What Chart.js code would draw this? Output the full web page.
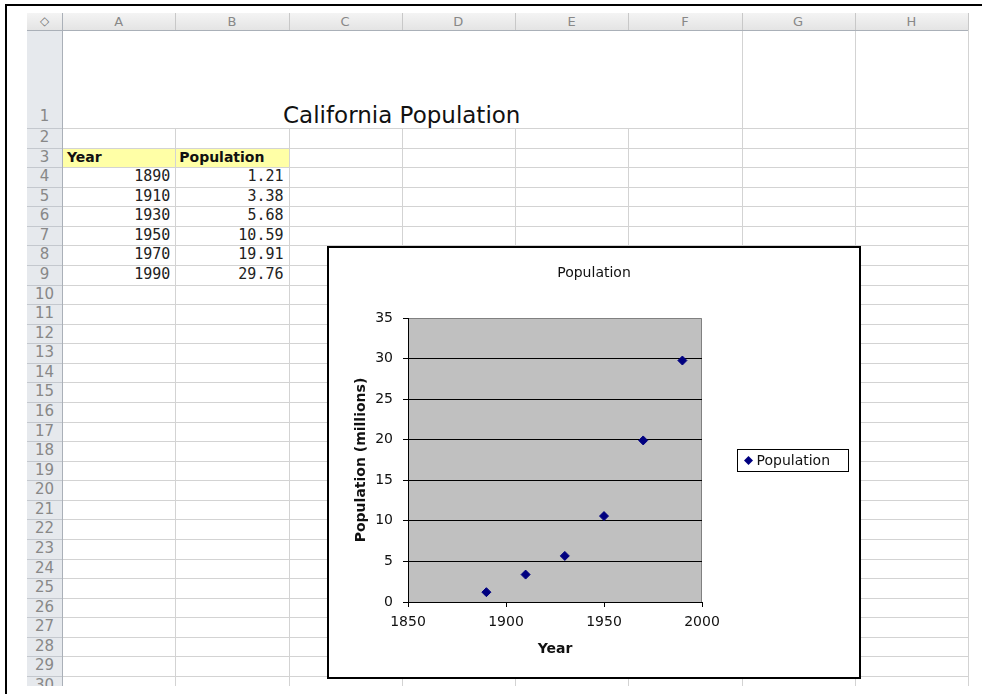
<!DOCTYPE html>
<html>
<head>
<meta charset="utf-8">
<title>California Population</title>
<script src="https://cdn.jsdelivr.net/npm/chart.js@4.4.1/dist/chart.umd.min.js"></script>
<style>
  html, body { margin:0; padding:0; background:#fff; }
  body { width:982px; height:694px; overflow:hidden; position:relative; font-family:"DejaVu Sans", Verdana, sans-serif; }
  .abs { position:absolute; box-sizing:border-box; white-space:nowrap; }
  #grid { position:absolute; left:0; top:0; width:982px; height:686px; overflow:hidden; }
  #chartBox { position:absolute; left:327px; top:246px; width:534px; height:433px; border:2px solid #000; background:#fff; box-sizing:border-box; }
  #chartBox canvas { display:block; }
</style>
</head>
<body>
<div id="grid"></div>
<div class="abs" style="left:5px;top:4px;width:977px;height:2px;background:#000"></div>
<div class="abs" style="left:5px;top:4px;width:2px;height:690px;background:#000"></div>
<div id="chartBox"><canvas id="popChart" width="530" height="429"></canvas></div>

<script>
// ----- data -----
const colLetters = ["A","B","C","D","E","F","G","H"];
const rowCount = 30;
const sheetTitle = "California Population";
const headers = ["Year","Population"];
const years = [1890, 1910, 1930, 1950, 1970, 1990];
const population = [1.21, 3.38, 5.68, 10.59, 19.91, 29.76];
const xRange = [1850, 2000];
const yRange = [0, 35];
const xStep = 50;
const yStep = 5;
const chartTitle = "Population";

// ----- sheet geometry -----
const G = { left:27, hdrTop:13, hdrBot:30, rowHdrR:62, colW:113.25, row1Bot:128, rowH:19.57, bottom:686, right:968 };
function colX(i){ return G.rowHdrR + i*G.colW; }
function rowTop(n){ return n===1 ? G.hdrBot : G.row1Bot + (n-2)*G.rowH; }
function rowBot(n){ return n===1 ? G.row1Bot : rowTop(n) + G.rowH; }

const grid = document.getElementById("grid");
function box(x, y, w, h, style, text){
  const d = document.createElement("div");
  d.className = "abs";
  d.style.cssText = `left:${x}px;top:${y}px;width:${w}px;height:${h}px;${style||""}`;
  if(text != null) d.textContent = text;
  grid.appendChild(d);
  return d;
}

// header backgrounds
box(G.left, G.hdrTop, G.right - G.left, G.hdrBot - G.hdrTop, "background:linear-gradient(#f4f4f4,#e4e4e4)");
box(G.left, G.hdrBot, G.rowHdrR - G.left, G.bottom - G.hdrBot, "background:#e6e9ed");
// yellow header cells A3:B3
box(colX(0), rowTop(3), 2*G.colW, G.rowH, "background:#ffffa6");

// horizontal lines
for(let n=2; n<=rowCount; n++){
  const y = Math.round(rowTop(n));
  box(G.left, y, G.rowHdrR - G.left, 1, "background:#c4c8ce");
  box(G.rowHdrR, y, G.right - G.rowHdrR, 1, "background:#d3d3d3");
}
// vertical lines
for(let i=1; i<=colLetters.length; i++){
  const x = Math.round(colX(i));
  box(x, G.hdrTop, 1, G.hdrBot - G.hdrTop, "background:#c8c8c8");
  const top = i <= 5 ? G.row1Bot : G.hdrBot;
  box(x, top, 1, G.bottom - top, "background:#d3d3d3");
}
box(G.rowHdrR, G.hdrTop, 1, G.bottom - G.hdrTop, "background:#aab0b8");
box(G.left, G.hdrBot, G.right - G.left, 1, "background:#aab0b8");

// corner + column letters
box(G.left, G.hdrTop, G.rowHdrR - G.left, G.hdrBot - G.hdrTop, "text-align:center;font-size:12px;line-height:17px;color:#777;font-weight:bold", "\u25C7");
colLetters.forEach((c, i) => {
  box(colX(i), G.hdrTop, G.colW, G.hdrBot - G.hdrTop, "text-align:center;font-size:13px;line-height:17px;color:#888", c);
});
// row numbers
for(let n=1; n<=rowCount; n++){
  const t = n===1 ? rowBot(1) - G.rowH - 1 : rowTop(n);
  box(G.left, t, G.rowHdrR - G.left, G.rowH, "text-align:center;font-size:15px;line-height:19.57px;color:#888", String(n));
}

// title A1:F1
box(colX(0), 102, 6*G.colW, 26, "text-align:center;font-size:23px;line-height:26px;color:#111", sheetTitle);
// headers
box(colX(0)+5, rowTop(3), G.colW, G.rowH, "font-size:14px;font-weight:bold;line-height:19.57px;color:#111", headers[0]);
box(colX(1)+4, rowTop(3), G.colW, G.rowH, "font-size:14px;font-weight:bold;line-height:19.57px;color:#111", headers[1]);
// data cells
years.forEach((yr, i) => {
  const r = 4 + i;
  const cs = "text-align:right;padding-right:5px;font-family:'DejaVu Sans Mono',monospace;font-size:15px;line-height:19.57px;color:#222";
  box(colX(0), rowTop(r), G.colW, G.rowH, cs, String(yr));
  box(colX(1), rowTop(r), G.colW, G.rowH, cs, population[i].toFixed(2));
});

// ----- chart -----
Chart.defaults.font.family = '"DejaVu Sans", Verdana, sans-serif';
Chart.defaults.font.size = 14;
Chart.defaults.color = "#111";

const plotBg = {
  id: "plotBg",
  beforeDraw(chart){
    const {ctx, chartArea:a} = chart;
    ctx.save();
    ctx.fillStyle = "#c0c0c0";
    ctx.fillRect(a.left, a.top, a.right - a.left, a.bottom - a.top);
    ctx.strokeStyle = "#808080";
    ctx.lineWidth = 1;
    ctx.beginPath();
    ctx.moveTo(a.left, a.top + 0.5);
    ctx.lineTo(a.right - 0.5, a.top + 0.5);
    ctx.lineTo(a.right - 0.5, a.bottom);
    ctx.stroke();
    // chart title, centred on the whole chart box
    ctx.fillStyle = "#111";
    ctx.font = '14px "DejaVu Sans", Verdana, sans-serif';
    ctx.textAlign = "center";
    ctx.textBaseline = "middle";
    ctx.fillText(chartTitle, chart.width / 2, 25);
    ctx.restore();
  }
};

const boxLegend = {
  id: "boxLegend",
  afterDraw(chart){
    const {ctx, chartArea:a} = chart;
    const ds = chart.data.datasets[0];
    const x = Math.round(a.right + 35) + 0.5, y = 201.5, w = 111, h = 22;
    ctx.save();
    ctx.strokeStyle = "#000";
    ctx.lineWidth = 1;
    ctx.strokeRect(x, y, w, h);
    const cx = x + 11, cy = y + h/2, r = 4.5;
    ctx.fillStyle = ds.backgroundColor;
    ctx.beginPath();
    ctx.moveTo(cx, cy - r); ctx.lineTo(cx + r, cy); ctx.lineTo(cx, cy + r); ctx.lineTo(cx - r, cy);
    ctx.closePath(); ctx.fill();
    ctx.fillStyle = "#111";
    ctx.font = '14px "DejaVu Sans", Verdana, sans-serif';
    ctx.textBaseline = "middle";
    ctx.fillText(ds.label, cx + 8, cy + 1);
    ctx.restore();
  }
};

new Chart(document.getElementById("popChart"), {
  type: "scatter",
  data: {
    datasets: [{
      label: "Population",
      data: years.map((yr, i) => ({ x: yr, y: population[i] })),
      pointStyle: "rectRot",
      pointRadius: 4.5,
      backgroundColor: "#000080",
      borderColor: "#000080",
      borderWidth: 1
    }]
  },
  options: {
    responsive: false,
    animation: false,
    devicePixelRatio: 1,
    layout: { padding: { left: 0, right: 157, top: 70, bottom: 0 } },
    plugins: {
      legend: { display: false },
      tooltip: { enabled: false },
      title: { display: false }
    },
    scales: {
      x: {
        type: "linear", min: xRange[0], max: xRange[1],
        ticks: { stepSize: xStep, padding: 7, color: "#111", callback: v => String(v) },
        grid: { drawOnChartArea: false, drawTicks: true, tickLength: 5, tickColor: "#000" },
        border: { display: true, color: "#000", width: 1 },
        title: { display: true, text: "Year", color: "#111", font: { weight: "bold" }, padding: { top: 0, bottom: 19.6 } },
        afterFit(s){ s.height = 75; }
      },
      y: {
        type: "linear", min: yRange[0], max: yRange[1],
        ticks: { stepSize: yStep, padding: 10, color: "#111", callback: v => String(v) },
        grid: {
          color: c => (c.tick && (c.tick.value === yRange[0] || c.tick.value === yRange[1])) ? "rgba(0,0,0,0)" : "#000",
          tickLength: 5, tickColor: "#000"
        },
        border: { display: true, color: "#000", width: 1 },
        title: { display: true, text: "Population (millions)", color: "#111", font: { weight: "bold" }, padding: { top: 23.6, bottom: 0 } },
        afterFit(s){ s.width = 79; }
      }
    }
  },
  plugins: [plotBg, boxLegend]
});
</script>
</body>
</html>
